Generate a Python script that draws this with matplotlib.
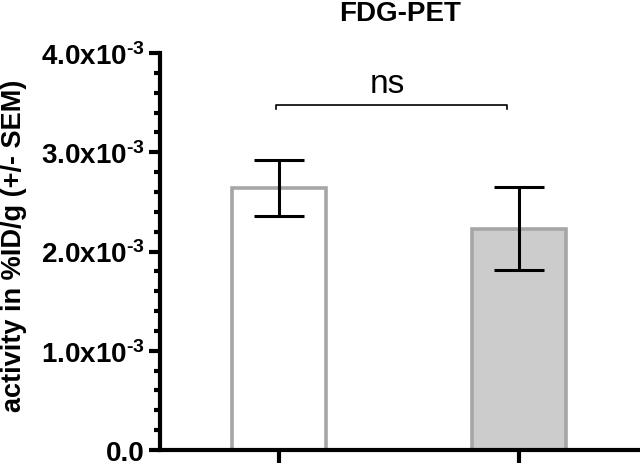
import matplotlib
matplotlib.use('Agg')
import matplotlib.pyplot as plt
from matplotlib.ticker import MultipleLocator, FuncFormatter

plt.rcParams['font.family'] = 'Liberation Sans'
plt.rcParams['mathtext.fontset'] = 'custom'
plt.rcParams['mathtext.rm'] = 'Liberation Sans:bold'
plt.rcParams['mathtext.it'] = 'Liberation Sans:bold'
plt.rcParams['mathtext.bf'] = 'Liberation Sans:bold'

# data (values in %ID/g)
groups = ['group 1', 'group 2']
means = [2.64e-3, 2.23e-3]
sems = [0.28e-3, 0.415e-3]
fills = ['white', '#cccccc']
sig_label = 'ns'

fig = plt.figure(figsize=(6.4, 4.64), dpi=100)
ax = fig.add_axes([0.25, 0.028, 0.75, 0.8556])

x = list(range(len(groups)))
ax.bar(x, means, width=0.39, color=fills, edgecolor='#a6a6a6', linewidth=2.6, zorder=2)
ax.errorbar(x, means, yerr=sems, fmt='none', ecolor='black', elinewidth=2.2,
            capsize=18, capthick=2.2, zorder=3)

# significance bracket
by = 3.476e-3
ax.plot([-0.012, -0.012, 0.95, 0.95], [by - 0.04e-3, by, by, by - 0.04e-3],
        color='black', lw=1.2, clip_on=False)
ax.text(0.45, by + 0.06e-3, sig_label, ha='center', va='bottom', fontsize=24)

ax.set_xlim(-0.496, 1.504)
ax.set_ylim(0, 4.0e-3)

ax.yaxis.set_major_locator(MultipleLocator(1e-3))
ax.yaxis.set_minor_locator(MultipleLocator(0.2e-3))

def fmt(v, pos):
    if abs(v) < 1e-12:
        return '0.0'
    return r'%.1fx10$^{\text{-3}}$' % (v * 1e3)

ax.yaxis.set_major_formatter(FuncFormatter(fmt))
ax.set_xticks(x)
ax.set_xticklabels([])

for s in ['top', 'right']:
    ax.spines[s].set_visible(False)
ax.spines['left'].set_linewidth(3)
ax.spines['bottom'].set_linewidth(3)

ax.tick_params(axis='y', which='major', length=8, width=3, labelsize=20, pad=3)
ax.tick_params(axis='y', which='minor', length=4, width=3)
ax.tick_params(axis='x', which='major', length=12, width=3)
for lab in ax.get_yticklabels():
    lab.set_fontweight('bold')

fig.text(14 / 640, 0.47, 'activity in %ID/g (+/- SEM)', rotation=90,
         ha='center', va='center', fontsize=19.5, fontweight='bold')
ax.set_title('FDG-PET', fontsize=20, fontweight='bold', pad=24)

fig.savefig('out.png', dpi=100)
